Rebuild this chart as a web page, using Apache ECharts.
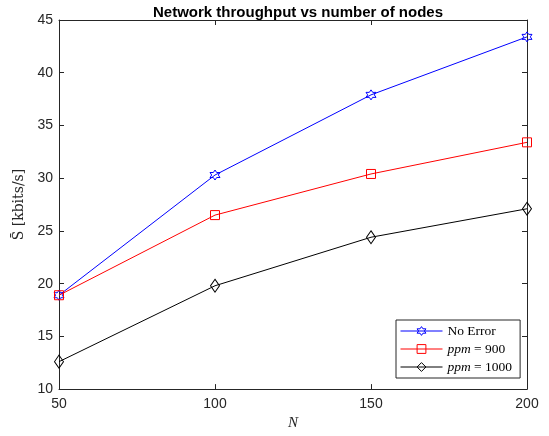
<!DOCTYPE html>
<html><head><meta charset="utf-8">
<script src="https://cdn.jsdelivr.net/npm/echarts@6/dist/echarts.min.js"></script>
<style>html,body{margin:0;padding:0;background:#fff}#c{width:549px;height:436px}</style>
</head><body><div id="c"></div>
<script>
const nodes = [50, 100, 150, 200];
const noError = [18.9, 30.3, 37.9, 43.4];
const ppm900 = [18.9, 26.5, 30.4, 33.4];
const ppm1000 = [12.6, 19.8, 24.4, 27.1];
const seriesNames = ['No Error', 'ppm = 900', 'ppm = 1000'];
const xTicks = [50, 100, 150, 200];
const yTicks = [10, 15, 20, 25, 30, 35, 40, 45];

const hexagram = 'path://M0,-10 L2.887,-5 L8.66,-5 L5.774,0 L8.66,5 L2.887,5 L0,10 L-2.887,5 L-8.66,5 L-5.774,0 L-8.66,-5 L-2.887,-5 Z';
const axisCol = '#262626';
const pair = (xs, ys) => xs.map((x, i) => [x, ys[i]]);

const chart = echarts.init(document.getElementById('c'));
const baseX = {type:'value', min:50, max:200, interval:50,
  axisLine:{show:true, onZero:false, lineStyle:{color:axisCol, width:1}},
  axisTick:{show:true, inside:true, length:5, lineStyle:{color:axisCol}},
  splitLine:{show:false}};
const baseY = {type:'value', min:10, max:45, interval:5,
  axisLine:{show:true, onZero:false, lineStyle:{color:axisCol, width:1}},
  axisTick:{show:true, inside:true, length:5, lineStyle:{color:axisCol}},
  splitLine:{show:false}};
const mk = (name, data, color, symbol, size) => ({
  name, type:'line', data, xAxisIndex:0, yAxisIndex:0,
  symbol, symbolSize:size, showAllSymbol:true,
  lineStyle:{color, width:1}, itemStyle:{color:'rgba(0,0,0,0)', borderColor:color, borderWidth:1},
  emphasis:{disabled:true}, animation:false
});
chart.setOption({
  animation:false,
  title:{text:'Network throughput vs number of nodes', left:293, textAlign:'center', top:0,
    textStyle:{fontFamily:'Liberation Sans, Arial, sans-serif', fontSize:15, fontWeight:'bold', color:'#000'}},
  grid:{left:59, right:22, top:20, bottom:46},
  xAxis:[Object.assign({}, baseX, {position:'bottom', name:'N', nameLocation:'middle', nameGap:24,
      nameTextStyle:{fontFamily:'Liberation Serif, serif', fontStyle:'italic', fontSize:15, color:axisCol},
      axisLabel:{show:true, margin:8, fontFamily:'Liberation Sans, Arial, sans-serif', fontSize:14, color:axisCol,
        formatter:v => xTicks.includes(v) ? String(v) : ''}}),
    Object.assign({}, baseX, {position:'top', axisLabel:{show:false}})],
  yAxis:[Object.assign({}, baseY, {position:'left', name:'S\u0304 [kbits/s]', nameLocation:'middle', nameGap:31, nameRotate:90,
      nameTextStyle:{fontFamily:'DejaVu Serif, Liberation Serif, serif', fontSize:14, color:axisCol},
      axisLabel:{show:true, margin:6, fontFamily:'Liberation Sans, Arial, sans-serif', fontSize:14, color:axisCol,
        formatter:v => yTicks.includes(v) ? String(v) : ''}}),
    Object.assign({}, baseY, {position:'right', axisLabel:{show:false}})],
  legend:{show:true, orient:'vertical', left:396, top:320, width:124,
    padding:[4, 8, 4, 4], itemGap:4, itemWidth:42, itemHeight:11,
    backgroundColor:'#fff', borderColor:axisCol, borderWidth:1,
    data:seriesNames,
    lineStyle:{width:1}, itemStyle:{borderWidth:1},
    formatter:n => n.replace('ppm', '{i|ppm}'),
    textStyle:{fontFamily:'Liberation Serif, serif', fontSize:13.5, color:'#000',
      rich:{i:{fontFamily:'Liberation Serif, serif', fontStyle:'italic', fontSize:13.5, color:'#000'}}}},
  series:[
    mk(seriesNames[0], pair(nodes, noError), '#0000ff', hexagram, 10),
    mk(seriesNames[1], pair(nodes, ppm900), '#ff0000', 'rect', 9),
    mk(seriesNames[2], pair(nodes, ppm1000), '#000000', 'diamond', [9, 13])
  ]
});
</script></body></html>
